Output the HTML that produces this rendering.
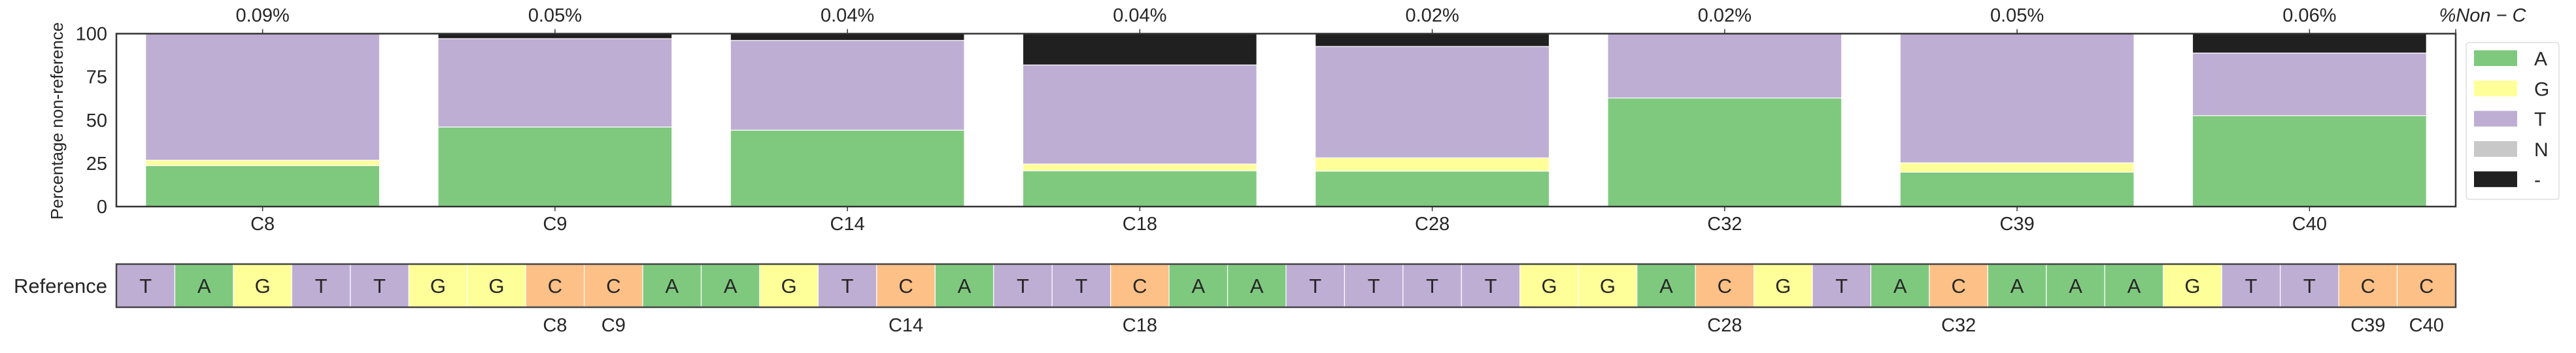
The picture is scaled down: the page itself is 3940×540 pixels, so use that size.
<!DOCTYPE html>
<html><head><meta charset="utf-8"><style>
body{margin:0;background:#fff;}
svg{display:block;font-family:"Liberation Sans",Arial,sans-serif;}
</style></head><body>
<svg id="chart" width="3940" height="540" viewBox="0 0 3940 540" xmlns="http://www.w3.org/2000/svg">
<g id="bars"></g>
<g id="ref"></g>
<g id="legend"></g>
</svg>
<script>
const categories = ["C8","C9","C14","C18","C28","C32","C39","C40"];
const topLabels = ["0.09%","0.05%","0.04%","0.04%","0.02%","0.02%","0.05%","0.06%"];
const valsA = [23.7,46,44.2,20.7,20.5,62.8,19.9,52.6];
const valsG = [3.1,0,0,3.9,7.7,0,5.4,0];
const valsT = [73.2,51.1,51.9,57.3,64.4,37.2,74.7,36.2];
const valsN = [0,0,0,0,0,0,0,0];
const valsDash = [0,2.9,3.9,18.1,7.4,0,0,11.2];
const yTicks = [0,25,50,75,100];
const refSeq = "TAGTTGGCCAAGTCATTCAATTTTGGACGTACAAAGTTCC".split("");
const refLabelIdx = [7,8,13,17,27,31,38,39];
const refLabels = ["C8","C9","C14","C18","C28","C32","C39","C40"];

const colors = {A:"#7fc97f",G:"#ffff99",T:"#beaed4",C:"#fdc086",N:"#c8c8c8","-":"#202020"};
const NS="http://www.w3.org/2000/svg";
const X0=178,X1=3756,Y0=316,Y1=51.5;
const xs = i => X0 + (i+0.5)*(X1-X0)/categories.length;
const ys = v => Y0 - v*(Y0-Y1)/100;
const bw = 0.8*(X1-X0)/categories.length;
function mk(tag, attrs, parent){const e=document.createElementNS(NS,tag);for(const k in attrs)e.setAttribute(k,attrs[k]);parent.appendChild(e);return e;}
const bars=document.getElementById('bars');
const series=[["A",valsA],["G",valsG],["T",valsT],["N",valsN],["-",valsDash]];
categories.forEach((c,i)=>{
  let acc=0;
  series.forEach(([k,arr])=>{
    const v=arr[i]; if(v<=0){return;}
    const r=mk('rect',{x:xs(i)-bw/2,y:ys(acc+v),width:bw,height:ys(acc)-ys(acc+v),fill:colors[k],stroke:"#fff","stroke-width":1.2},bars);
    
    
    acc+=v;
  });
  const t1=mk('line',{x1:xs(i),x2:xs(i),y1:Y0,y2:Y0+7,stroke:"#333","stroke-width":1.5},bars);
  const t2=mk('line',{x1:xs(i),x2:xs(i),y1:Y1,y2:Y1-7,stroke:"#333","stroke-width":1.5},bars);
  const lb=mk('text',{x:xs(i),y:352,"text-anchor":"middle","font-size":29,fill:"#262626"},bars);
  lb.textContent=c;
  
  
  const tl=mk('text',{x:xs(i),y:33,"text-anchor":"middle","font-size":29,fill:"#262626"},bars);
  tl.textContent=topLabels[i];
  
  
});
mk('line',{x1:X1,x2:X1,y1:Y1,y2:Y1-7,stroke:"#333","stroke-width":1.5},bars);
const nc=mk('text',{x:3797,y:33,"text-anchor":"middle","font-size":29,fill:"#262626","font-style":"italic"},bars);
nc.textContent="%Non − C";


yTicks.forEach(v=>{
  const t=mk('text',{x:164,y:ys(v)+10,"text-anchor":"end","font-size":29,fill:"#262626"},bars);
  t.textContent=v;
  
  
});
const yl=mk('text',{x:0,y:0,transform:"translate(96,185) rotate(-90)","text-anchor":"middle","font-size":26,fill:"#262626"},bars);
yl.textContent="Percentage non-reference";


const fr=mk('rect',{x:X0,y:Y1,width:X1-X0,height:Y0-Y1,fill:"none",stroke:"#333","stroke-width":2.5},bars);



const ref=document.getElementById('ref');
const RY0=404,RY1=470,cw=(X1-X0)/refSeq.length;
refSeq.forEach((b,i)=>{
  const r=mk('rect',{x:X0+i*cw,y:RY0,width:cw,height:RY1-RY0,fill:colors[b],stroke:"#fff","stroke-width":1.2},ref);
  
  
  const t=mk('text',{x:X0+(i+0.5)*cw,y:448,"text-anchor":"middle","font-size":31,fill:"#262626"},ref);
  t.textContent=b;
  
  
});
refLabelIdx.forEach((idx,j)=>{
  const t=mk('text',{x:X0+(idx+0.5)*cw,y:507,"text-anchor":"middle","font-size":29,fill:"#262626"},ref);
  t.textContent=refLabels[j];
  
  
});
const rf=mk('rect',{x:X0,y:RY0,width:X1-X0,height:RY1-RY0,fill:"none",stroke:"#444","stroke-width":2.5},ref);


const rt=mk('text',{x:164,y:448,"text-anchor":"end","font-size":31,fill:"#262626"},ref);
rt.textContent="Reference";



const lg=document.getElementById('legend');
const lb=mk('rect',{x:3772,y:65,width:142,height:240,rx:5,fill:"#fff",stroke:"#ddd","stroke-width":1.5},lg);


["A","G","T","N","-"].forEach((k,i)=>{
  const cy=89+i*46.3;
  const p=mk('rect',{x:3784,y:cy-12,width:66,height:24,fill:colors[k]},lg);
  
  
  const t=mk('text',{x:3876,y:cy+11,"font-size":30,fill:"#262626"},lg);
  t.textContent=k;
  
  
});
</script>
</body></html>
